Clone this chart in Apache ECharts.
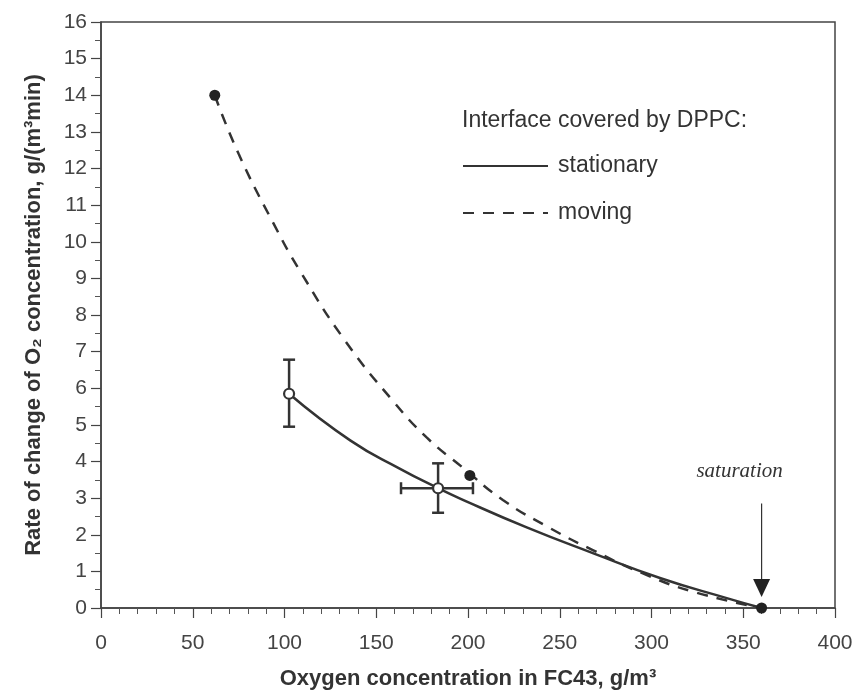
<!DOCTYPE html>
<html>
<head>
<meta charset="utf-8">
<script src="https://cdn.jsdelivr.net/npm/echarts@6/dist/echarts.min.js"></script>
<style>
  html, body { margin: 0; padding: 0; background: #fff; }
  #chart { width: 855px; height: 692px; }
</style>
</head>
<body>
<div id="chart"></div>
<script>
// axis ticks
const xTicks = [0, 50, 100, 150, 200, 250, 300, 350, 400];
const yTicks = [0, 1, 2, 3, 4, 5, 6, 7, 8, 9, 10, 11, 12, 13, 14, 15, 16];

// fitted curves
const stationaryX = [102.5, 136, 163, 183.7, 196, 232, 268, 304.6, 341, 360];
const stationaryY = [5.85, 4.57, 3.8, 3.27, 2.98, 2.2, 1.5, 0.82, 0.27, 0];
const movingX = [62, 75, 94, 108.5, 133, 159, 177.6, 197, 219, 244, 268, 295, 323, 360];
const movingY = [14, 12.4, 10.5, 9.2, 7.3, 5.66, 4.65, 3.84, 2.95, 2.2, 1.58, 0.95, 0.44, 0];

// measured points (stationary, with error bars)
const openX = [102.5, 183.7];
const openY = [5.85, 3.27];
const openYLow = [4.95, 2.6];
const openYHigh = [6.78, 3.95];
const openXLow = [null, 163.5];
const openXHigh = [null, 202.7];

// measured points (moving)
const filledX = [62, 201, 360];
const filledY = [14, 3.62, 0];

// saturation marker
const saturationX = 360;
const arrowTop = 2.85;
const arrowTip = 0.3;

const ink = '#333';
const sans = 'Liberation Sans, Arial, sans-serif';

function pairs(xs, ys) {
  return xs.map((x, i) => [x, ys[i]]);
}

let myChart = echarts.init(document.getElementById('chart'));

let option = {
  animation: false,
  grid: {
    left: 101, top: 22, width: 734, height: 586,
    containLabel: false, outerBoundsMode: 'none',
    show: true, borderColor: '#444', borderWidth: 1.5
  },
  legend: {
    left: 462, top: 153, padding: 0,
    orient: 'vertical',
    itemWidth: 85, itemHeight: 14, itemGap: 21,
    data: ['stationary', 'moving'],
    selectedMode: false,
    itemStyle: { opacity: 0 },
    textStyle: { fontFamily: sans, fontSize: 23, color: ink, lineHeight: 26, padding: [0, 0, 0, 5] }
  },
  graphic: [{
    type: 'text', left: 462, top: 109,
    style: { text: 'Interface covered by DPPC:', font: '23px ' + sans, fill: ink }
  }],
  xAxis: {
    type: 'value', min: 0, max: 400, interval: 50,
    name: 'Oxygen concentration in FC43, g/m³',
    nameLocation: 'middle', nameGap: 60,
    nameTextStyle: { fontFamily: sans, fontSize: 22, fontWeight: 'bold', color: ink },
    axisLine: { lineStyle: { color: '#444', width: 1.5 } },
    axisTick: { length: 10, lineStyle: { color: '#444', width: 1.2 } },
    minorTick: { show: true, splitNumber: 5, length: 6, lineStyle: { color: '#555', width: 1 } },
    axisLabel: {
      margin: 25, fontFamily: sans, fontSize: 21, color: '#444',
      formatter: v => xTicks.includes(v) ? String(v) : ''
    },
    splitLine: { show: false }
  },
  yAxis: {
    type: 'value', min: 0, max: 16, interval: 1,
    name: 'Rate of change of O₂ concentration, g/(m³min)',
    nameLocation: 'middle', nameGap: 56,
    nameTextStyle: { fontFamily: sans, fontSize: 22, fontWeight: 'bold', color: ink },
    axisLine: { lineStyle: { color: '#444', width: 1.5 } },
    axisTick: { length: 10, lineStyle: { color: '#444', width: 1.2 } },
    minorTick: { show: true, splitNumber: 2, length: 6, lineStyle: { color: '#555', width: 1 } },
    axisLabel: {
      margin: 14, fontFamily: sans, fontSize: 21, color: '#444',
      formatter: v => yTicks.includes(v) ? String(v) : ''
    },
    splitLine: { show: false }
  },
  series: [
    {
      name: 'stationary', type: 'line', smooth: 0.5,
      symbol: 'none', z: 3,
      lineStyle: { color: ink, width: 2.5, type: 'solid' },
      itemStyle: { color: ink },
      data: pairs(stationaryX, stationaryY)
    },
    {
      name: 'moving', type: 'line', smooth: 0.5,
      symbol: 'none', z: 3,
      lineStyle: { color: ink, width: 2.5, type: [11, 9] },
      itemStyle: { color: ink },
      data: pairs(movingX, movingY)
    },
    {
      name: 'error bars', type: 'custom', z: 4,
      data: openX.map((x, i) => [x, openY[i], openYLow[i], openYHigh[i],
        openXLow[i] == null ? x : openXLow[i], openXHigh[i] == null ? x : openXHigh[i]]),
      renderItem: function (params, api) {
        let x = api.value(0), y = api.value(1);
        let c = api.coord([x, y]);
        let lo = api.coord([x, api.value(2)]);
        let hi = api.coord([x, api.value(3)]);
        let st = { stroke: ink, lineWidth: 2.5 };
        let cap = 6;
        let children = [
          { type: 'line', shape: { x1: c[0], y1: lo[1], x2: c[0], y2: hi[1] }, style: st },
          { type: 'line', shape: { x1: c[0] - cap, y1: lo[1], x2: c[0] + cap, y2: lo[1] }, style: st },
          { type: 'line', shape: { x1: c[0] - cap, y1: hi[1], x2: c[0] + cap, y2: hi[1] }, style: st }
        ];
        if (api.value(4) !== x) {
          let l = api.coord([api.value(4), y]);
          let r = api.coord([api.value(5), y]);
          children.push(
            { type: 'line', shape: { x1: l[0], y1: c[1], x2: r[0], y2: c[1] }, style: st },
            { type: 'line', shape: { x1: l[0], y1: c[1] - cap, x2: l[0], y2: c[1] + cap }, style: st },
            { type: 'line', shape: { x1: r[0], y1: c[1] - cap, x2: r[0], y2: c[1] + cap }, style: st }
          );
        }
        return { type: 'group', children: children };
      }
    },
    {
      name: 'stationary points', type: 'scatter', z: 5,
      symbol: 'circle', symbolSize: 10,
      itemStyle: { color: '#fff', borderColor: ink, borderWidth: 2.2, opacity: 1 },
      data: pairs(openX, openY)
    },
    {
      name: 'moving points', type: 'scatter', z: 5, clip: false,
      symbol: 'circle', symbolSize: 11,
      itemStyle: { color: '#222', opacity: 1 },
      data: pairs(filledX, filledY)
    },
    {
      name: 'saturation', type: 'custom', z: 4, clip: false,
      data: [[saturationX, arrowTop, arrowTip]],
      renderItem: function (params, api) {
        let top = api.coord([api.value(0), api.value(1)]);
        let tip = api.coord([api.value(0), api.value(2)]);
        return {
          type: 'group',
          children: [
            { type: 'line', shape: { x1: top[0], y1: top[1], x2: top[0], y2: tip[1] - 16 },
              style: { stroke: ink, lineWidth: 1.2 } },
            { type: 'polygon', shape: { points: [[tip[0] - 8.5, tip[1] - 18], [tip[0] + 8.5, tip[1] - 18], [tip[0], tip[1]]] },
              style: { fill: '#222' } },
            { type: 'text', x: top[0] - 22, y: top[1] - 32,
              style: { text: 'saturation', font: 'italic 21px Liberation Serif, Times New Roman, serif',
                fill: ink, align: 'center', verticalAlign: 'middle' } }
          ]
        };
      }
    }
  ]
};

myChart.setOption(option);
</script>
</body>
</html>
